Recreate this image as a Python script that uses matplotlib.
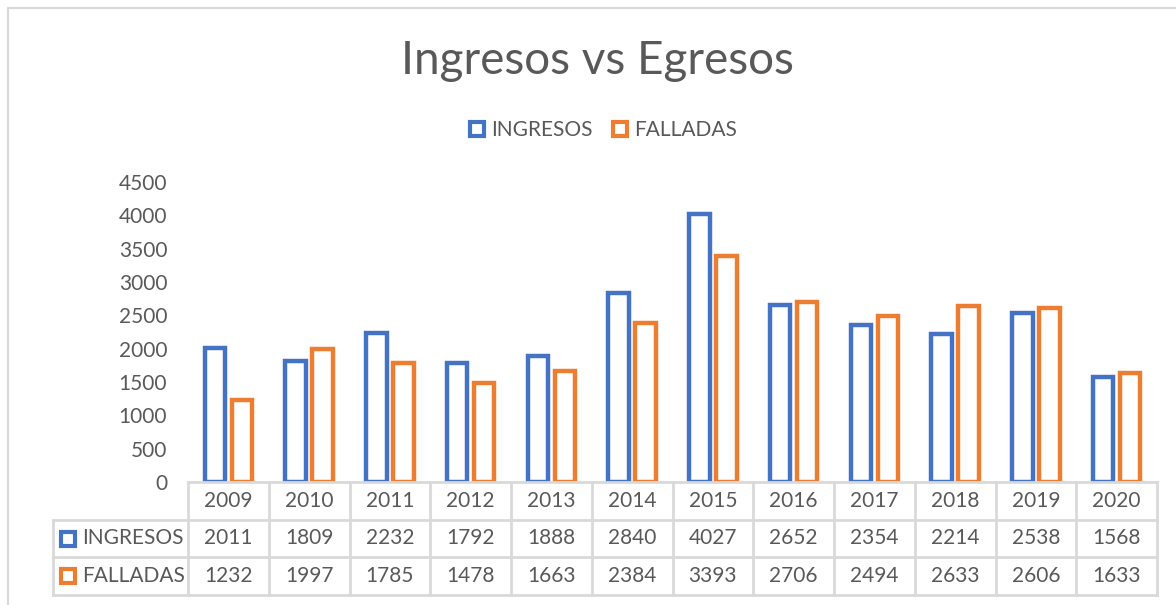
import numpy as np
import matplotlib
matplotlib.use("Agg")
from matplotlib import pyplot as plt
from matplotlib.lines import Line2D

matplotlib.rcParams['font.family'] = ['Lato', 'DejaVu Sans']

years = ['2009', '2010', '2011', '2012', '2013', '2014', '2015', '2016', '2017', '2018', '2019', '2020']
ingresos = [2011, 1809, 2232, 1792, 1888, 2840, 4027, 2652, 2354, 2214, 2538, 1568]
falladas = [1232, 1997, 1785, 1478, 1663, 2384, 3393, 2706, 2494, 2633, 2606, 1633]
yticks = [0, 500, 1000, 1500, 2000, 2500, 3000, 3500, 4000, 4500]

BLUE = '#4472C4'
ORANGE = '#ED7D31'
TXT = '#595959'
GRID = '#D9D9D9'

W, H = 1176, 605
fig = plt.figure(figsize=(W / 100, H / 100), dpi=100)

# chart border (top / left visible)
fig.add_artist(Line2D([8 / W, 8 / W], [0, 1 - 8 / H], color=GRID, lw=1.5))
fig.add_artist(Line2D([8 / W, 1], [1 - 8 / H, 1 - 8 / H], color=GRID, lw=1.5))

x0, x1 = 188, 1157
ax = fig.add_axes([x0 / W, (H - 482) / H, (x1 - x0) / W, 300 / H])
x = np.arange(len(years))
bw = 0.255
off = 0.168
ax.bar(x - off, ingresos, width=bw, fill=False, edgecolor=BLUE, linewidth=3.2)
ax.bar(x + off, falladas, width=bw, fill=False, edgecolor=ORANGE, linewidth=3.2)
ax.set_xlim(-0.5, len(years) - 0.5)
ax.set_ylim(0, 4500)
ax.set_yticks(yticks)
ax.set_yticklabels([str(v) for v in yticks])
ax.tick_params(axis='y', length=0, pad=15, labelsize=15, labelcolor=TXT)
ax.set_xticks([])
for s in ax.spines.values():
    s.set_visible(False)

# data table below the plot
cw = (x1 - x0) / len(years)
lx = -0.5 - (x0 - 53) / cw
tb = fig.add_axes([53 / W, (H - 595) / H, (x1 - 53) / W, (595 - 482) / H])
tb.set_xlim(lx, len(years) - 0.5)
tb.set_ylim(0, 3)
tb.axis('off')
tb.plot([-0.5, len(years) - 0.5], [3, 3], color=GRID, lw=2, clip_on=False)
for yy in [0, 1, 2]:
    tb.plot([lx, len(years) - 0.5], [yy, yy], color=GRID, lw=2, clip_on=False)
for k in range(len(years) + 1):
    tb.plot([k - 0.5, k - 0.5], [0, 3], color=GRID, lw=2, clip_on=False)
tb.plot([lx, lx], [0, 2], color=GRID, lw=2, clip_on=False)

for i, yr in enumerate(years):
    tb.text(i, 2.5, yr, ha='center', va='center', fontsize=15, color=TXT)
    tb.text(i, 1.5, str(ingresos[i]), ha='center', va='center', fontsize=15, color=TXT)
    tb.text(i, 0.5, str(falladas[i]), ha='center', va='center', fontsize=15, color=TXT)

mx = -0.5 - (x0 - 68) / cw
tx = -0.5 - (x0 - 82) / cw
for row, name, c in [(1.5, 'INGRESOS', BLUE), (0.5, 'FALLADAS', ORANGE)]:
    tb.plot([mx], [row], marker='s', ms=10.5, mfc='white', mec=c, mew=3, clip_on=False)
    tb.text(tx, row, name, ha='left', va='center', fontsize=15, color=TXT)

fig.text(597 / W, 1 - 61 / H, 'Ingresos vs Egresos', ha='center', va='center',
         fontsize=33, color=TXT)

handles = [Line2D([], [], ls='none', marker='s', ms=10.5, mfc='white', mec=BLUE, mew=3),
           Line2D([], [], ls='none', marker='s', ms=10.5, mfc='white', mec=ORANGE, mew=3)]
leg = fig.legend(handles, ['INGRESOS', 'FALLADAS'], loc='center', ncol=2,
                 bbox_to_anchor=(603 / W, 1 - 130 / H), frameon=False, fontsize=15,
                 handlelength=0.8, handletextpad=0.3, columnspacing=0.9, labelcolor=TXT)

fig.savefig('out.png', dpi=100)
